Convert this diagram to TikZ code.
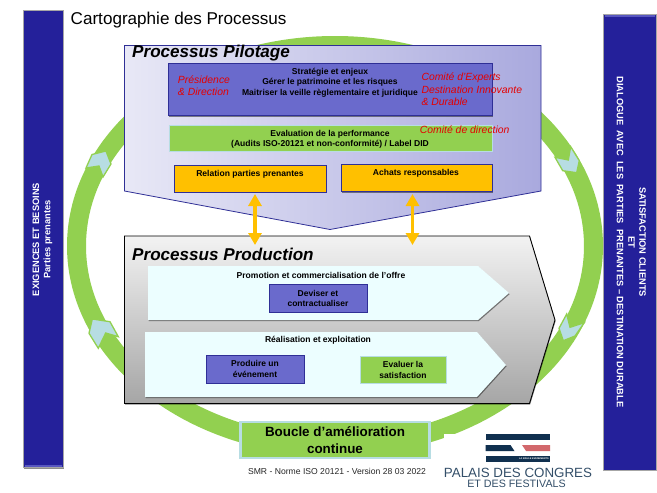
\documentclass[tikz,border=0pt]{standalone}
\usepackage{fontspec}
\setmainfont{Liberation Sans}
\usetikzlibrary{arrows.meta,shadows,calc}
\definecolor{ringgreen}{HTML}{92D050}
\definecolor{paleblue}{HTML}{B7DDE3}
\definecolor{barblue}{HTML}{24209A}
\definecolor{boxblue}{HTML}{6A6ACC}
\definecolor{edgeblue}{HTML}{2F2F96}
\definecolor{amber}{HTML}{FFC000}
\definecolor{navy}{HTML}{10304F}
\definecolor{rosy}{HTML}{D2686C}
\definecolor{ice}{HTML}{ECFEFF}
\definecolor{pilL}{HTML}{E8E8F6}
\definecolor{pilR}{HTML}{A9A9DE}
\newcommand{\fsz}[2]{\fontsize{#1}{#2}\selectfont}
\tikzset{
  softshadow/.style={drop shadow={shadow xshift=0.6pt,shadow yshift=-1.2pt,opacity=.45,fill=black}},
  sidebar/.style={fill=barblue,draw=black!35,line width=.8pt,softshadow},
  chevron/.style={fill=paleblue,draw=ringgreen,line width=1.3pt,line join=miter},
  bluebox/.style={fill=boxblue,draw=edgeblue,line width=.8pt,inner sep=0pt,align=center,softshadow,font=\bfseries\fsz{8.5}{10.3}},
  greenbox/.style={fill=ringgreen,draw=paleblue,line width=.9pt,inner sep=0pt,align=center,softshadow,font=\bfseries\fsz{8.5}{11}},
  amberbox/.style={fill=amber,draw=edgeblue,line width=.8pt,inner sep=0pt,softshadow},
  boldlabel/.style={font=\bfseries\fsz{8.55}{10.6},align=center,inner sep=0pt},
  redlabel/.style={font=\itshape\fsz{10.4}{12.4},text=red!90!black,align=left,inner sep=0pt},
  heading/.style={font=\bfseries\itshape\fsz{17.1}{18},anchor=west,inner sep=0pt},
  barlabel/.style={text=white,font=\bfseries\fsz{9.3}{10},inner sep=0pt},
  linkarrow/.style={draw=amber,line width=3.4pt,{Triangle[length=12pt,width=13pt]}-{Triangle[length=12pt,width=13pt]},shorten >=0pt,shorten <=0pt},
}
\begin{document}
\begin{tikzpicture}[x=1pt,y=-1pt]
\useasboundingbox (0,0) rectangle (657,493);
% ring
\fill[ringgreen,even odd rule] (335,246) ellipse [x radius=268,y radius=210]
  (335,246) ellipse [x radius=249,y radius=191];
% logo background
\fill[white] (444,434) rectangle (603,493);
% side bars
\path[sidebar] (23.5,10.5) rectangle (63.5,467.5);
\fill[boxblue!75!barblue] (25,464.5) rectangle (62,467);
\path[sidebar] (603.5,14) rectangle (656,470);
\fill[boxblue!75!barblue] (604.5,14.5) rectangle (655,17);
\node[barlabel,rotate=90] (exi) at (36,239.5) {EXIGENCES ET BESOINS};
\node[barlabel,rotate=90] (par) at (48,239.5) {Parties prenantes};
\node[barlabel,rotate=-90] (sat) at (642.5,242) {SATISFACTION CLIENTS};
\node[barlabel,rotate=-90] (et) at (631.5,242) {ET};
\node[barlabel,rotate=-90] (dia) at (620,242) {DIALOGUE\ \ AVEC\ \ LES\ \ PARTIES\ \ PRENANTES – DESTINATION DURABLE};
% title
\node[anchor=west,inner sep=0pt,font=\fsz{17.1}{18}] (title) at (70.5,20) {Cartographie des Processus};
% chevrons
\path[chevron] (86,168) -- (92,154.5) -- (106,151) -- (111,164) -- (103,177) -- (99,166) -- cycle;
\path[chevron] (92.3,319) -- (110,321.7) -- (118.3,336.7) -- (105.7,333) -- (98.3,348.3) -- (89,333.3) -- cycle;
\path[chevron] (555,157.3) -- (568.3,160) -- (570.7,146.7) -- (579.3,160.7) -- (576.7,172.7) -- (562.7,170.7) -- cycle;
\path[chevron] (566.7,314) -- (570,327.3) -- (584.3,322.7) -- (575,336) -- (563.3,340.7) -- (559,328.3) -- cycle;
% pilotage
\shade[left color=pilL,right color=pilR,draw=edgeblue,line width=.8pt]
  (124.5,45.5) -- (541,45.5) -- (541,191) -- (330,229.5) -- (124.5,191) -- cycle;
\node[heading] (pil) at (132,53) {Processus Pilotage};
\node[bluebox,minimum width=323.5pt,minimum height=52.5pt,text=black] (strat) at (330.25,89.25) {};
\node[boldlabel] (stratt) at (330,82.5) {Stratégie et enjeux\\Gérer le patrimoine et les risques\\Maitriser la veille règlementaire et juridique};
\node[redlabel] (pres) at (204,86) {Présidence\\\& Direction};
\node[redlabel,anchor=west] (comx) at (421.3,89.5) {Comité d’Experts\\Destination Innovante\\\& Durable};
\node[greenbox,minimum width=323pt,minimum height=26pt] (eval) at (330.5,138) {};
\node[boldlabel,font=\bfseries\fsz{8.55}{10}] (evalt) at (330,139) {Evaluation de la performance\\(Audits ISO-20121 et non-conformité) / Label DID};
\node[redlabel,anchor=west] (comd) at (419.7,129.5) {Comité de direction};
\node[amberbox,minimum width=151.5pt,minimum height=27pt] (rel) at (250.25,178.5) {};
\node[boldlabel] at (250,174) {Relation parties prenantes};
\node[amberbox,minimum width=151.5pt,minimum height=27pt] (ach) at (416.75,178) {};
\node[boldlabel] at (416,173) {Achats responsables};
% production
\shade[top color=black!5,bottom color=black!35,draw=black,line width=.9pt,softshadow]
  (124.5,236) -- (529.5,236) -- (555,320) -- (529.5,403.5) -- (124.5,403.5) -- cycle;
\node[heading] (prod) at (132,254) {Processus Production};
\path[fill=ice,softshadow] (148,266) -- (478,266) -- (509,293) -- (478,320) -- (148,320) -- cycle;
\path[fill=ice,softshadow] (145,332) -- (477,332) -- (506,365) -- (477,397) -- (145,397) -- cycle;
\node[boldlabel] (promo) at (321,275) {Promotion et commercialisation de l’offre};
\node[boldlabel] (reali) at (318,340) {Réalisation et exploitation};
\node[bluebox,minimum width=98pt,minimum height=27.5pt] (dev) at (318,298.5) {Deviser et\\contractualiser};
\node[bluebox,minimum width=98pt,minimum height=28pt] (pro) at (255,369) {Produire un\\événement};
\node[greenbox,minimum width=86pt,minimum height=27pt] (sat2) at (403,369.5) {Evaluer la\\satisfaction};
% links
\coordinate (l1a) at (255,194);
\coordinate (l1b) at (255,245);
\coordinate (l2a) at (412.5,194);
\coordinate (l2b) at (412.5,245);
\draw[linkarrow] (l1a) -- (l1b);
\draw[linkarrow] (l2a) -- (l2b);
% boucle
\node[fill=ringgreen,draw=paleblue,line width=2.4pt,inner sep=0pt,minimum width=189pt,minimum height=36pt,align=center,softshadow,font=\bfseries\fsz{13.4}{16.5}] (bou) at (335,440) {Boucle d’amélioration\\continue};
\node[inner sep=0pt,font=\fsz{8.6}{10},text=black!85] (smr) at (337,471) {SMR - Norme ISO 20121 - Version 28 03 2022};
% logo
\fill[navy] (485.5,434) rectangle (550,440);
\fill[navy] (485.5,445) -- (510.5,445) -- (514.5,451) -- (485.5,451) -- cycle;
\fill[rosy] (522,445) -- (550,445) -- (550,451) -- (526,451) -- cycle;
\node[fill=navy,text=white,minimum width=64.5pt,minimum height=6pt,inner sep=0pt,font=\bfseries\fsz{2.4}{3},text width=62pt,align=right] (lab) at (517.75,459) {LA BAULE EVENEMENTS};
\node[inner sep=0pt,text=navy!85!white,font=\fsz{13.35}{14}] (pal) at (518,473) {PALAIS DES CONGRES};
\node[inner sep=0pt,text=navy!85!white,font=\fsz{10.7}{11}] (fes) at (516.5,484) {ET DES FESTIVALS};
\end{tikzpicture}
\end{document}
